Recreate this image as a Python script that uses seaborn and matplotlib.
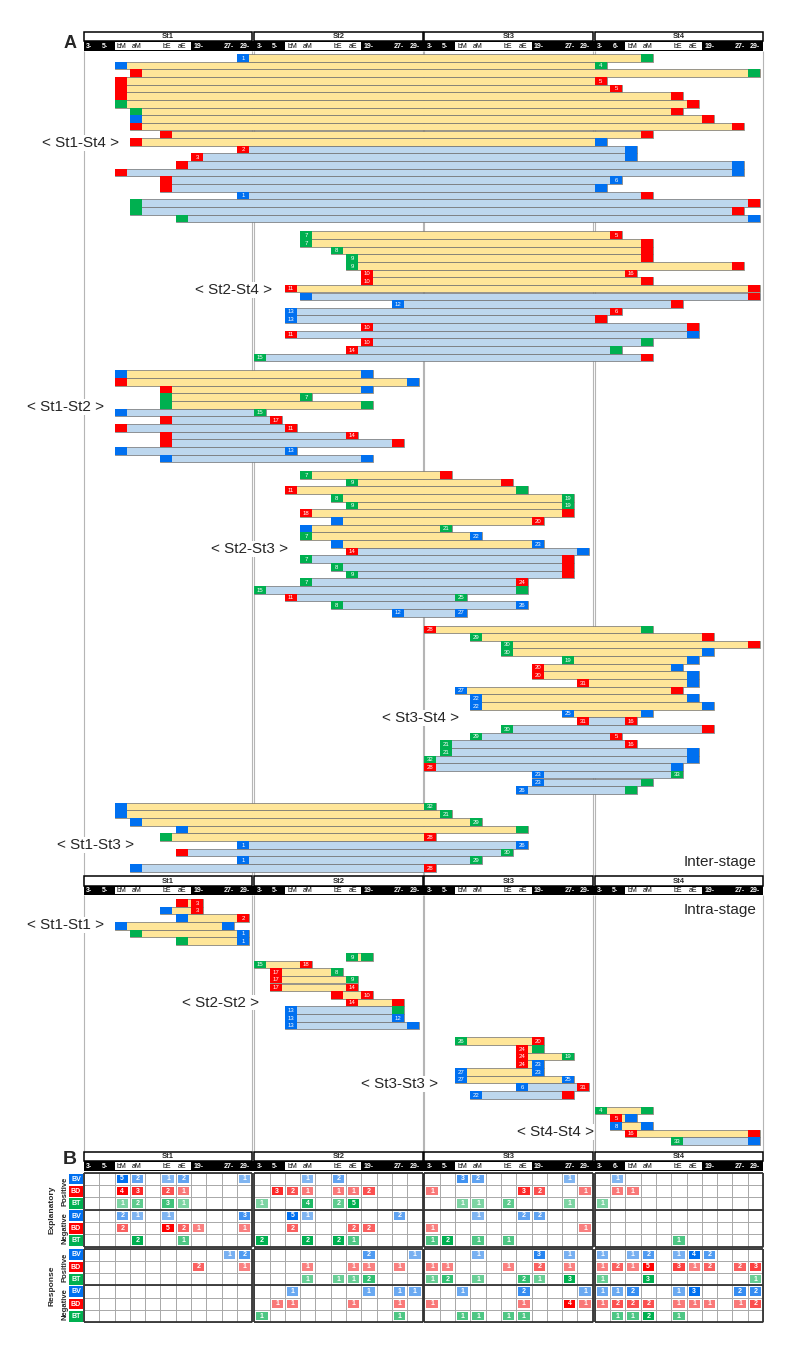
# %% IMPORTS
import numpy as np
import matplotlib.pyplot as plt
import seaborn as sns

sns.set_theme(style="white")
plt.rcParams["font.family"] = ["Liberation Sans", "DejaVu Sans"]

# %% DATA
STAGES = ["St1", "St2", "St3", "St4"]
TIME_LABELS = ["3-", "5-", "bM", "aM", "", "bE", "aE", "19-", "", "27-", "29-"]
TIME_LABELS_ST4 = ["3-", "6-", "bM", "aM", "", "bE", "aE", "19-", "", "27-", "29-"]

# panel A: (start col, start box, start label, end col, end box, end label)
# col 0-43 = 11 time points x 4 stages ; B = BV, R = BD, G = BT
ST1_ST4 = [
    (10, "B", "1", 36, "G", ""), (2, "B", "", 33, "G", "4"), (3, "R", "", 43, "G", ""),
    (2, "R", "", 33, "R", "5"), (2, "R", "", 34, "R", "5"), (2, "R", "", 38, "R", ""),
    (2, "G", "", 39, "R", ""), (3, "G", "", 38, "R", ""), (3, "B", "", 40, "R", ""),
    (3, "R", "", 42, "R", ""), (5, "R", "", 36, "R", ""), (3, "R", "", 33, "B", ""),
    (10, "R", "2", 35, "B", ""), (7, "R", "3", 35, "B", ""), (6, "R", "", 42, "B", ""),
    (2, "R", "", 42, "B", ""), (5, "R", "", 34, "B", "6"), (5, "R", "", 33, "B", ""),
    (10, "B", "1", 36, "R", ""), (3, "G", "", 43, "R", ""), (3, "G", "", 42, "R", ""),
    (6, "G", "", 43, "B", ""),
]
ST2_ST4 = [
    (14, "G", "7", 34, "R", "5"), (14, "G", "7", 36, "R", ""), (16, "G", "8", 36, "R", ""),
    (17, "G", "9", 36, "R", ""), (17, "G", "9", 42, "R", ""), (18, "R", "10", 35, "R", "16"),
    (18, "R", "10", 36, "R", ""), (13, "R", "11", 43, "R", ""), (14, "B", "", 43, "R", ""),
    (20, "B", "12", 38, "R", ""), (13, "B", "13", 34, "R", "6"), (13, "B", "13", 33, "R", ""),
    (18, "R", "10", 39, "R", ""), (13, "R", "11", 39, "B", ""), (18, "R", "10", 36, "G", ""),
    (17, "R", "14", 34, "G", ""), (11, "G", "15", 36, "R", ""),
]
ST1_ST2 = [
    (2, "B", "", 18, "B", ""), (2, "R", "", 21, "B", ""), (5, "R", "", 18, "B", ""),
    (5, "G", "", 14, "G", "7"), (5, "G", "", 18, "G", ""), (2, "B", "", 11, "G", "15"),
    (5, "R", "", 12, "R", "17"), (2, "R", "", 13, "R", "11"), (5, "R", "", 17, "R", "14"),
    (5, "R", "", 20, "R", ""), (2, "B", "", 13, "B", "13"), (5, "B", "", 18, "B", ""),
]
ST2_ST3 = [
    (14, "G", "7", 23, "R", ""), (17, "G", "9", 27, "R", ""), (13, "R", "11", 28, "G", ""),
    (16, "G", "8", 31, "G", "19"), (17, "G", "9", 31, "G", "19"), (14, "R", "18", 31, "R", ""),
    (16, "B", "", 29, "R", "20"), (14, "B", "", 23, "G", "21"), (14, "G", "7", 25, "B", "22"),
    (16, "B", "", 29, "B", "23"), (17, "R", "14", 32, "B", ""), (14, "G", "7", 31, "R", ""),
    (16, "G", "8", 31, "R", ""), (17, "G", "9", 31, "R", ""), (14, "G", "7", 28, "R", "24"),
    (11, "G", "15", 28, "G", ""), (13, "R", "11", 24, "G", "25"), (16, "G", "8", 28, "B", "26"),
    (20, "B", "12", 24, "B", "27"),
]
ST3_ST4 = [
    (22, "R", "28", 36, "G", ""), (25, "G", "29", 40, "R", ""), (27, "G", "30", 43, "R", ""),
    (27, "G", "30", 40, "B", ""), (31, "G", "19", 39, "B", ""), (29, "R", "20", 38, "B", ""),
    (29, "R", "20", 39, "B", ""), (32, "R", "31", 39, "B", ""), (24, "B", "27", 38, "R", ""),
    (25, "B", "22", 39, "B", ""), (25, "B", "22", 40, "B", ""), (31, "B", "25", 36, "B", ""),
    (32, "R", "31", 35, "R", "16"), (27, "G", "30", 40, "R", ""), (25, "G", "29", 34, "R", "5"),
    (23, "G", "21", 35, "R", "16"), (23, "G", "21", 39, "B", ""), (22, "G", "32", 39, "B", ""),
    (22, "R", "28", 38, "B", ""), (29, "B", "23", 38, "G", "33"), (29, "B", "23", 36, "G", ""),
    (28, "B", "26", 35, "G", ""),
]
ST1_ST3 = [
    (2, "B", "", 22, "G", "32"), (2, "B", "", 23, "G", "21"), (3, "B", "", 25, "G", "29"),
    (6, "B", "", 28, "G", ""), (5, "G", "", 22, "R", "28"), (10, "B", "1", 28, "B", "26"),
    (6, "R", "", 27, "G", "30"), (10, "B", "1", 25, "G", "29"), (3, "B", "", 22, "R", "28"),
]
ST1_ST1 = [
    (6, "R", "", 7, "R", "3"), (5, "B", "", 7, "R", "3"), (6, "B", "", 10, "R", "2"),
    (2, "B", "", 9, "B", ""), (3, "G", "", 10, "B", "1"), (6, "G", "", 10, "B", "1"),
]
ST2_ST2 = [
    (17, "G", "9", 18, "G", ""), (11, "G", "15", 14, "R", "18"), (12, "R", "17", 16, "G", "8"),
    (12, "R", "17", 17, "G", "9"), (12, "R", "17", 17, "R", "14"), (16, "R", "", 18, "R", "10"),
    (17, "R", "14", 20, "R", ""), (13, "B", "13", 20, "G", ""), (13, "B", "13", 20, "B", "12"),
    (13, "B", "13", 21, "B", ""),
]
ST3_ST3 = [
    (24, "G", "26", 29, "R", "20"), (28, "R", "24", 29, "G", ""), (28, "R", "24", 31, "G", "19"),
    (28, "R", "24", 29, "B", "23"), (24, "B", "27", 29, "B", "23"), (24, "B", "27", 31, "B", "25"),
    (28, "B", "6", 32, "R", "31"), (25, "B", "22", 31, "R", ""),
]
ST4_ST4 = [
    (33, "G", "4", 36, "G", ""), (34, "R", "5", 35, "B", ""), (34, "B", "8", 36, "B", ""),
    (35, "R", "16", 43, "R", ""), (38, "G", "33", 43, "B", ""),
]

# number of positive (yellow) rows at the top of each group
INTER_GROUPS = [("< St1-St4 >", ST1_ST4, 12), ("< St2-St4 >", ST2_ST4, 8),
                ("< St1-St2 >", ST1_ST2, 5), ("< St2-St3 >", ST2_ST3, 10),
                ("< St3-St4 >", ST3_ST4, 12), ("< St1-St3 >", ST1_ST3, 5)]
INTRA_GROUPS = [("< St1-St1 >", ST1_ST1, 6), ("< St2-St2 >", ST2_ST2, 7),
                ("< St3-St3 >", ST3_ST3, 6), ("< St4-St4 >", ST4_ST4, 4)]

# panel B counts (44 values = 11 time points x 4 stages)
EXP_POS_BV = [0,0,5,2,0,1,2,0,0,0,1, 0,0,0,1,0,2,0,0,0,0,0, 0,0,3,2,0,0,0,0,0,1,0, 0,1,0,0,0,0,0,0,0,0,0]
EXP_POS_BD = [0,0,4,3,0,2,1,0,0,0,0, 0,3,2,1,0,1,1,2,0,0,0, 1,0,0,0,0,0,3,2,0,0,1, 0,1,1,0,0,0,0,0,0,0,0]
EXP_POS_BT = [0,0,1,2,0,3,1,0,0,0,0, 1,0,0,4,0,2,5,0,0,0,0, 0,0,1,1,0,2,0,0,0,1,0, 1,0,0,0,0,0,0,0,0,0,0]
EXP_NEG_BV = [0,0,2,1,0,1,0,0,0,0,3, 0,0,5,1,0,0,0,0,0,2,0, 0,0,0,1,0,0,2,2,0,0,0, 0,0,0,0,0,0,0,0,0,0,0]
EXP_NEG_BD = [0,0,2,0,0,5,2,1,0,0,1, 0,0,2,0,0,0,2,2,0,0,0, 1,0,0,0,0,0,0,0,0,0,1, 0,0,0,0,0,0,0,0,0,0,0]
EXP_NEG_BT = [0,0,0,2,0,0,1,0,0,0,0, 2,0,0,2,0,2,1,0,0,0,0, 1,2,0,1,0,1,0,0,0,0,0, 0,0,0,0,0,1,0,0,0,0,0]
RESP_POS_BV = [0,0,0,0,0,0,0,0,0,1,2, 0,0,0,0,0,0,0,2,0,0,1, 0,0,0,1,0,0,0,3,0,1,0, 1,0,1,2,0,1,4,2,0,0,0]
RESP_POS_BD = [0,0,0,0,0,0,0,2,0,0,1, 0,0,0,1,0,0,1,1,0,1,0, 1,1,0,0,0,1,0,2,0,1,0, 1,2,1,5,0,3,1,2,0,2,3]
RESP_POS_BT = [0,0,0,0,0,0,0,0,0,0,0, 0,0,0,1,0,1,1,2,0,0,0, 1,2,0,1,0,0,2,1,0,3,0, 1,0,0,3,0,0,0,0,0,0,1]
RESP_NEG_BV = [0,0,0,0,0,0,0,0,0,0,0, 0,0,1,0,0,0,0,1,0,1,1, 0,0,1,0,0,0,2,0,0,0,1, 1,1,2,0,0,1,3,0,0,2,2]
RESP_NEG_BD = [0,0,0,0,0,0,0,0,0,0,0, 0,1,1,0,0,0,1,0,0,1,0, 1,0,0,0,0,0,1,0,0,4,1, 1,2,2,2,0,1,1,1,0,1,2]
RESP_NEG_BT = [0,0,0,0,0,0,0,0,0,0,0, 1,0,0,0,0,0,0,0,0,1,0, 0,0,1,1,0,1,1,0,0,0,0, 0,1,1,2,0,1,0,0,0,0,0]

BLOCKS = ["Explanatory", "Response"]
SIGNS = ["Positive", "Negative"]
ROW_TYPES = ["BV", "BD", "BT"]
B_DATA = {
    "Explanatory": [EXP_POS_BV, EXP_POS_BD, EXP_POS_BT, EXP_NEG_BV, EXP_NEG_BD, EXP_NEG_BT],
    "Response": [RESP_POS_BV, RESP_POS_BD, RESP_POS_BT, RESP_NEG_BV, RESP_NEG_BD, RESP_NEG_BT],
}

# %% STYLE / LAYOUT
BOX = {"B": "#0070F0", "R": "#FF0000", "G": "#00B050"}
TYPE_COL = {"BV": BOX["B"], "BD": BOX["R"], "BT": BOX["G"]}
YELLOW = "#FFE699"
LBLUE = "#BDD7EE"
W_PX, H_PX = 790, 1346
X0_PX = 84          # left edge of St1
PX = 15.296         # pixels per time column
GAP = 0.13          # gap between stages, in columns
BOX_W = 0.785
PITCH = 7.65
GROUP_GAP = 9
INTER_TOP = 54
INTRA_TOP = 899
HEAD_A, HEAD_MID, HEAD_B = 31.5, 876, 1151.5
B_TOPS = [1172.7, 1248.5]
B_ROW = 12.33

# label anchors (column, row inside group)
INTER_LABEL_POS = [(-0.26, 11.6), (9.8, 7.7), (-1.24, 4.8), (10.85, 10.2), (21.97, 12.1), (0.72, 5.5)]
INTRA_LABEL_POS = [(-1.24, 3.4), (8.9, 6.5), (20.6, 6.1), (30.8, 3.3)]


def xc(c):
    c = np.asarray(c)
    return c + GAP * (c // 11)


fig = plt.figure(figsize=(W_PX / 100, H_PX / 100), dpi=100)
ax = fig.add_axes([0, 0, 1, 1])
ax.set_xlim(-X0_PX / PX, (W_PX - X0_PX) / PX)
ax.set_ylim(H_PX, 0)
ax.axis("off")

RIGHT = float(xc(43)) + 1


def draw_header(top, st4_labels):
    h = 9.6
    ax.barh(top + h * 1.5, RIGHT, left=0, height=h, color="black", linewidth=0, zorder=5)
    for s, name in enumerate(STAGES):
        x0 = float(xc(11 * s))
        ax.barh(top + h / 2, 11, left=x0, height=h, color="white", edgecolor="black",
                linewidth=1.1, zorder=5)
        ax.text(x0 + 5.5, top + h / 2 + 0.3, name, fontsize=5.5, fontweight="bold",
                ha="center", va="center", zorder=6)
        ax.barh(top + h * 1.5, 5, left=x0 + 2, height=h - 2.2, color="white", linewidth=0, zorder=5)
        labels = st4_labels if s == 3 else TIME_LABELS
        for k, lab in enumerate(labels):
            inside = 2 <= k <= 6
            ax.text(x0 + k + 0.15, top + h * 1.5 + 0.3, lab, fontsize=5,
                    color="black" if inside else "white",
                    fontweight="normal" if inside else "bold",
                    ha="left", va="center", zorder=6)


def draw_group(rows, n_pos, top):
    y = top + (np.arange(len(rows)) + 0.5) * PITCH
    c0 = np.array([r[0] for r in rows])
    c1 = np.array([r[3] for r in rows])
    x0 = xc(c0)
    x1 = xc(c1) + BOX_W
    fills = [YELLOW if i < n_pos else LBLUE for i in range(len(rows))]
    ax.barh(y, x1 - x0, left=x0, height=PITCH, color=fills, edgecolor="#6e6e6e",
            linewidth=0.5, zorder=2)
    for ci, ki, li in ((0, 1, 2), (3, 4, 5)):
        cols = np.array([r[ci] for r in rows])
        ax.barh(y, BOX_W, left=xc(cols), height=PITCH, color=[BOX[r[ki]] for r in rows],
                linewidth=0, zorder=3)
        for yy, cc, r in zip(y, cols, rows):
            if r[li]:
                ax.text(float(xc(cc)) + BOX_W / 2, yy + 0.3, r[li], color="white", fontsize=4.3,
                        ha="center", va="center", zorder=4)
    return top + len(rows) * PITCH


# stage separator lines
for y_a, y_b in ((51, 875), (895, 1151)):
    xs = [0.0, RIGHT]
    for s in range(1, 4):
        xs += [float(xc(11 * s)) - GAP, float(xc(11 * s))]
    ax.vlines(xs, y_a, y_b, color="#b5b5b5", linewidth=0.8, zorder=1)

draw_header(HEAD_A, TIME_LABELS_ST4)
draw_header(HEAD_MID, TIME_LABELS)
draw_header(HEAD_B, TIME_LABELS_ST4)

label_kw = dict(fontsize=11, ha="center", va="center", zorder=7,
                bbox=dict(facecolor="white", edgecolor="none", pad=0.5))
top = INTER_TOP
for (name, rows, npos), (lx, lr) in zip(INTER_GROUPS, INTER_LABEL_POS):
    ax.text(lx, top + lr * PITCH, name, **label_kw)
    top = draw_group(rows, npos, top) + GROUP_GAP
top = INTRA_TOP
for (name, rows, npos), (lx, lr) in zip(INTRA_GROUPS, INTRA_LABEL_POS):
    ax.text(lx, top + lr * PITCH, name, **label_kw)
    top = draw_group(rows, npos, top) + 8

ax.text(RIGHT - 0.4, 862, "Inter-stage", fontsize=11, ha="right", va="center")
ax.text(RIGHT - 0.4, 910, "Intra-stage", fontsize=11, ha="right", va="center")
ax.text((70 - X0_PX) / PX, 43, "A", fontsize=13, fontweight="bold", ha="center", va="center")
ax.text((70 - X0_PX) / PX, 1159, "B", fontsize=14, fontweight="bold", ha="center", va="center")

# %% PANEL B
for b, block in enumerate(BLOCKS):
    data = np.array(B_DATA[block])
    btop = B_TOPS[b]
    # row labels on the left
    for r in range(6):
        t = ROW_TYPES[r % 3]
        yc = btop + (r + 0.5) * B_ROW
        ax.barh(yc, 0.87, left=-0.96, height=B_ROW - 1.6, color=TYPE_COL[t], linewidth=0)
        ax.text(-0.525, yc + 0.3, t, color="white", fontsize=5, fontweight="bold",
                ha="center", va="center")
    for g, sign in enumerate(SIGNS):
        ax.text(-1.27, btop + (g * 3 + 1.5) * B_ROW, sign, rotation=90, fontsize=5.5,
                fontweight="bold", ha="center", va="center")
    ax.text(-2.09, btop + 3 * B_ROW, block, rotation=90, fontsize=6, fontweight="bold",
            ha="center", va="center")

    for s in range(4):
        sub = data[:, 11 * s:11 * s + 11]
        left_px = X0_PX + PX * float(xc(11 * s))
        axb = fig.add_axes([left_px / W_PX, 1 - (btop + 6 * B_ROW) / H_PX,
                            11 * PX / W_PX, 6 * B_ROW / H_PX])
        axb.set_facecolor("white")
        annot = np.where(sub > 0, sub.astype(str), "")
        for r in range(6):
            if sub[r].sum() == 0:
                continue
            vmax = data[r].max()
            mask = np.ones(sub.shape, dtype=bool)
            mask[r] = sub[r] == 0
            sns.heatmap(sub, mask=mask, ax=axb,
                        cmap=sns.light_palette(TYPE_COL[ROW_TYPES[r % 3]], as_cmap=True),
                        vmin=-vmax / 2, vmax=vmax, annot=annot, fmt="",
                        annot_kws=dict(color="white", fontsize=5, fontweight="bold"),
                        linewidths=1.5, linecolor="white", cbar=False,
                        xticklabels=False, yticklabels=False)
        axb.set_xlim(0, 11)
        axb.set_ylim(6, 0)
        for sp in axb.spines.values():
            sp.set_visible(False)
        axb.hlines(range(7), 0, 11, color="#a8a8a8", linewidth=0.7, clip_on=False)
        axb.vlines(range(12), 0, 6, color="#a8a8a8", linewidth=0.7, clip_on=False)
        axb.hlines([0, 3, 6], 0, 11, color="#333333", linewidth=1.3, clip_on=False)
        axb.vlines([0, 11], 0, 6, color="#333333", linewidth=1.3, clip_on=False)

fig.savefig("out.png", dpi=100)
